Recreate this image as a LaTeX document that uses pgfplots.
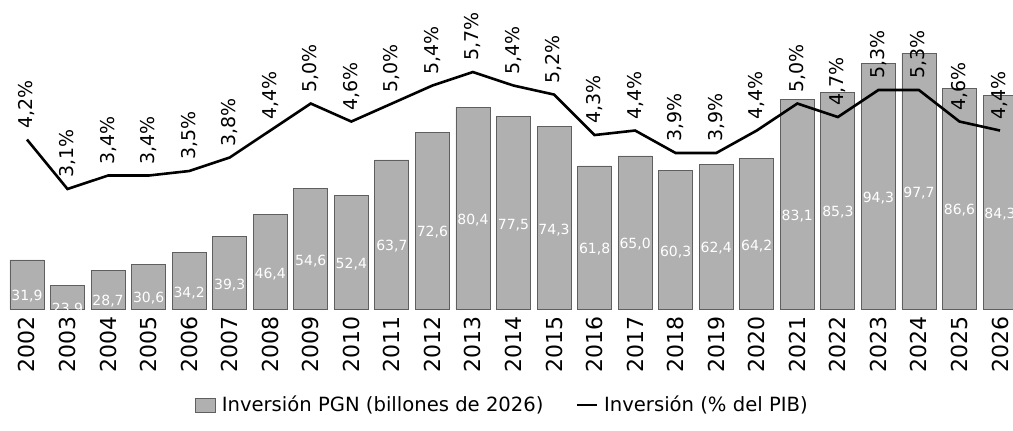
\documentclass[border=0pt]{standalone}
\usepackage{fontspec}
\setmainfont{DejaVu Sans}
\usepackage{pgfplots}
\usepackage{pgfplotstable}
\pgfplotsset{compat=1.18}
\definecolor{barfill}{RGB}{176,176,176}
\definecolor{baredge}{RGB}{95,95,95}

% inversion PGN (billones de 2026) y % del PIB
\pgfplotstableread{
i year inv pib
0 2002 31.9 4.2
1 2003 23.9 3.1
2 2004 28.7 3.4
3 2005 30.6 3.4
4 2006 34.2 3.5
5 2007 39.3 3.8
6 2008 46.4 4.4
7 2009 54.6 5.0
8 2010 52.4 4.6
9 2011 63.7 5.0
10 2012 72.6 5.4
11 2013 80.4 5.7
12 2014 77.5 5.4
13 2015 74.3 5.2
14 2016 61.8 4.3
15 2017 65.0 4.4
16 2018 60.3 3.9
17 2019 62.4 3.9
18 2020 64.2 4.4
19 2021 83.1 5.0
20 2022 85.3 4.7
21 2023 94.3 5.3
22 2024 97.7 5.3
23 2025 86.6 4.6
24 2026 84.3 4.4
}\datos

\begin{document}
\begin{tikzpicture}
\begin{axis}[
    name=a,
    scale only axis,
    width=506.8pt, height=152pt,
    xmin=-0.5, xmax=24.5,
    ymin=16.3, ymax=113,
    ybar, bar width=17pt,
    axis line style={draw=none},
    major tick length=0pt,
    ytick=\empty,
    xtick=data,
    xticklabels from table={\datos}{year},
    xticklabel style={rotate=90, anchor=east, font=\fontsize{11}{13}\selectfont},
]
\addplot[fill=barfill, draw=baredge, line width=0.4pt,
    nodes near coords={\pgfmathprintnumber[fixed,fixed zerofill,precision=1,use comma,assume math mode=true]{\pgfplotspointmeta}},
    visualization depends on={y \as \rawy},
    every node near coord/.append style={white, font=\fontsize{7}{8}\selectfont, anchor=center,
        shift={(axis direction cs:0,{-(\rawy-16.3)/2})}, yshift=-6pt}
] table[x=i, y=inv] {\datos};
\end{axis}

\begin{axis}[
    scale only axis,
    width=506.8pt, height=152pt,
    xmin=-0.5, xmax=24.5,
    ymin=0.433, ymax=7.19,
    hide axis, clip=false,
    legend columns=2,
    legend style={draw=none, fill=none, at={(0.49,-0.316)}, anchor=center,
        font=\fontsize{9.8}{12}\selectfont,
        /tikz/every odd column/.append style={column sep=1pt},
        /tikz/every even column/.append style={column sep=14pt}},
    legend image code/.code={\draw[#1] (0pt,0pt) -- (10pt,0pt);},
]
\addlegendimage{legend image code/.code={\draw[fill=barfill, draw=baredge, line width=0.4pt] (0pt,-3.5pt) rectangle (10pt,3.5pt);}}
\addlegendentry{Inversión PGN (billones de 2026)}
\addplot[black, line width=1.3pt,
    nodes near coords={\pgfmathprintnumber[fixed,fixed zerofill,precision=1,use comma,assume math mode=true]{\pgfplotspointmeta}\%},
    every node near coord/.append style={black, rotate=90, anchor=west, inner xsep=5pt,
        font=\fontsize{9.5}{11}\selectfont}
] table[x=i, y=pib] {\datos};
\addlegendentry{Inversión (\% del PIB)}
\end{axis}

\pgfresetboundingbox
\path ([shift={(-3.35pt,-60.5pt)}]a.south west) rectangle ([shift={(503.15pt,154.5pt)}]a.south west);
\end{tikzpicture}
\end{document}
